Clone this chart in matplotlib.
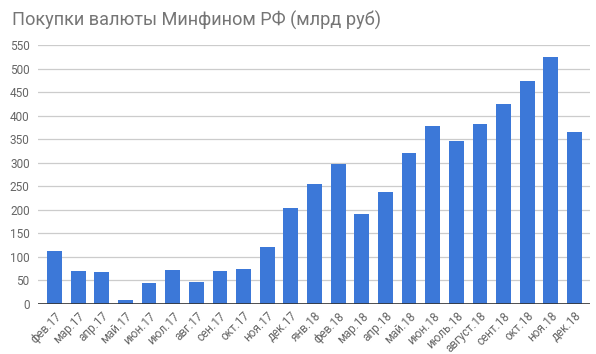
import matplotlib
matplotlib.use("Agg")
import matplotlib.pyplot as plt

months = ["фев.17", "мар.17", "апр.17", "май.17", "июн.17", "июл.17", "авг.17",
          "сен.17", "окт.17", "ноя.17", "дек.17", "янв.18", "фев.18", "мар.18",
          "апр.18", "май.18", "июн.18", "июль.18", "август.18", "сент.18",
          "окт.18", "ноя.18", "дек.18"]
values = [112, 70, 68, 8, 45, 72, 47, 70, 74, 121, 204, 255, 298, 191,
          238, 321, 379, 347, 383, 425, 474, 525, 366]
yticks = list(range(0, 551, 50))

plt.rcParams['font.family'] = ['Roboto', 'DejaVu Sans']

fig = plt.figure(figsize=(5.96, 3.54), dpi=100)
ax = fig.add_axes([38/596, 1 - 304/354, (590 - 38)/596, (304 - 45)/354])

x = list(range(len(months)))
ax.bar(x, values, width=0.63, color="#3c78d8", zorder=3)

ax.set_xlim(-0.698, len(months) - 1 + 0.656)
ax.set_ylim(0, 550)
ax.set_yticks(yticks)
ax.set_yticklabels([str(v) for v in yticks])
ax.grid(axis="y", color="#cccccc", linewidth=0.9, zorder=0)
ax.axhline(0, color="#333333", linewidth=1.2, zorder=4)

for s in ax.spines.values():
    s.set_visible(False)
ax.tick_params(axis="both", length=0, labelsize=8.5, colors="#666666")
ax.tick_params(axis="y", pad=6)
ax.set_xticks(x)
ax.set_xticklabels(months, rotation=45, ha="right", rotation_mode="anchor")
ax.tick_params(axis="x", pad=4)

fig.text(12/596, 1 - 20/354, "Покупки валюты Минфином РФ (млрд руб)",
         fontsize=13.1, color="#757575", va="center", ha="left")

fig.savefig("out.png", dpi=100)
